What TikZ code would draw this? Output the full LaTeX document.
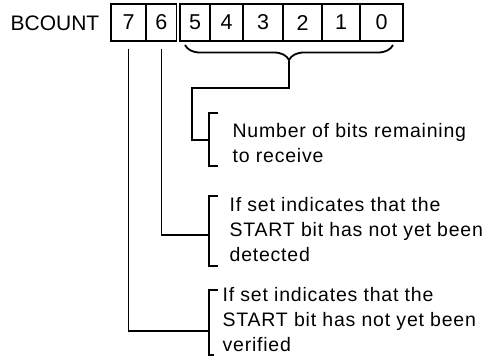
\documentclass[tikz,border=0pt]{standalone}
\usepackage{fontspec}
\setmainfont{Liberation Sans}
\newfontfamily\labfont[LetterSpace=4]{Liberation Sans}
\usetikzlibrary{decorations.pathreplacing}
\begin{document}
\begin{tikzpicture}[x=1pt,y=-1pt,line width=1.3pt,
  cell/.style={draw,minimum height=37pt,inner sep=0pt,font=\fontsize{21.5}{24}\selectfont},
  lab/.style={anchor=north west,inner sep=0pt,align=left,font=\labfont\fontsize{19.5}{25}\selectfont},
  brk/.style={line width=1.3pt},
  wire/.style={line width=1.3pt}]
\useasboundingbox (0,0) rectangle (491,360);
\node[anchor=base west,inner sep=0pt,font=\fontsize{21}{24}\selectfont] (bc) at (10,30.5) {BCOUNT};
% register cells
\node[cell,minimum width=35pt] (b7) at (128.5,22.5) {7};
\node[cell,minimum width=30.5pt] (b6) at (161.25,22.5) {6};
\node[cell,minimum width=30pt] (b5) at (195,22.5) {5};
\node[cell,minimum width=33pt] (b4) at (226.5,22.5) {4};
\node[cell,minimum width=40pt] (b3) at (263,22.5) {3};
\node[cell,minimum width=39pt] (b2) at (302.5,22.5) {2};
\node[cell,minimum width=38pt] (b1) at (341,22.5) {1};
\node[cell,minimum width=43pt] (b0) at (381.5,22.5) {0};
% brace
\draw[decorate,decoration={brace,amplitude=15pt,mirror},line width=1.8pt] (185,45) -- (393,45);
\coordinate (tip) at (289,61);
% texts
\node[lab] (t1) at (232,119.5) {\strut Number of bits remaining\\\strut to receive};
\node[lab] (t2) at (229,193.5) {\strut If set indicates that the\\\strut START bit has not yet been\\\strut detected};
\node[lab] (t3) at (222,283.5) {\strut If set indicates that the\\\strut START bit has not yet been\\\strut verified};
% brackets
\coordinate (br1) at (209,140);
\coordinate (br2) at (209,235);
\coordinate (br3) at (209,331);
\draw[brk] (218,113) -- (209,113) -- (209,166) -- (218,166);
\draw[brk] (218,196) -- (209,196) -- (209,266) -- (218,266);
\draw[brk] (218,290) -- (209,290) -- (209,355) -- (214,355);
% connectors
\draw[wire] (tip) |- (192,88) |- (br1);
\draw[wire] ([yshift=-7pt]b6.south) |- (br2);
\draw[wire] ([yshift=-7pt]b7.south) |- (br3);
\end{tikzpicture}
\end{document}
